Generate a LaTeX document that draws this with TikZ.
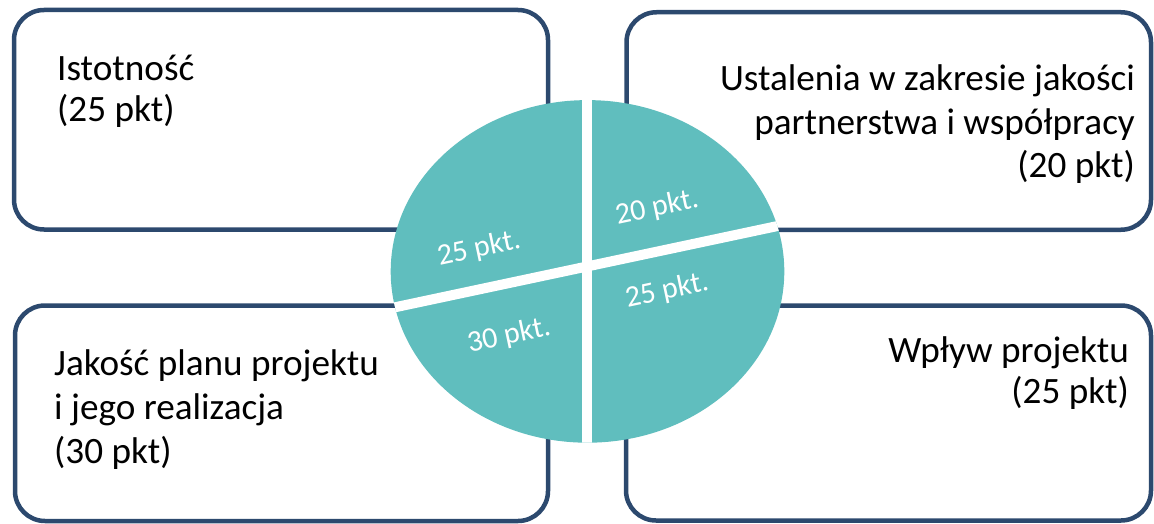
\documentclass[tikz,border=0pt]{standalone}
\usepackage{fontspec}
\setmainfont{Carlito}
\definecolor{navy}{RGB}{44,73,110}
\definecolor{pieteal}{RGB}{96,190,190}
\begin{document}
\begin{tikzpicture}[x=1pt,y=-1pt,
  panel/.style={draw=navy, line width=4.5pt, rounded corners=30pt, fill=white, inner sep=0pt},
  maintext/.style={inner sep=0pt, text=black},
  slicelabel/.style={font=\fontsize{30}{36}\selectfont, text=white, rotate=12, inner sep=0pt},
  gap/.style={draw=white, line width=10pt}]
\useasboundingbox (0,0) rectangle (1154,524);
% panels
\node[panel, minimum width=534pt, minimum height=219.5pt] (tl) at (281,119.75) {};
\node[panel, minimum width=524.5pt, minimum height=217.5pt] (tr) at (888.75,121) {};
\node[panel, minimum width=533pt, minimum height=215.5pt] (bl) at (281.5,413.25) {};
\node[panel, minimum width=525pt, minimum height=215pt] (br) at (888.5,413) {};
% texts (base anchor = baseline of the last line)
\node[maintext, anchor=base west, align=left, font=\fontsize{37.2}{41}\selectfont] (tltext) at (57,122) {Istotność\\(25 pkt)};
\node[maintext, anchor=base east, align=right, font=\fontsize{37.2}{43.5}\selectfont] (trtext) at (1135,178) {Ustalenia w zakresie jakości\\partnerstwa i współpracy\\(20 pkt)};
\node[maintext, anchor=base west, align=left, font=\fontsize{37.2}{44}\selectfont] (bltext) at (54,463) {Jakość planu projektu\\i jego realizacja\\(30 pkt)};
\node[maintext, anchor=base east, align=right, font=\fontsize{37.2}{41}\selectfont] (brtext) at (1129,403) {Wpływ projektu\\(25 pkt)};
% pie
\fill[pieteal] (587.5,271.4) ellipse [x radius=196.8pt, y radius=171.3pt];
\coordinate (c) at (587,266.5);
\coordinate (vtop) at (587,60);
\coordinate (vbot) at (587,480);
\coordinate (sl) at (362,314.3);
\coordinate (sr) at (812,218.7);
\begin{scope}
  \clip (587.5,271.4) ellipse [x radius=196.8pt, y radius=171.3pt];
  \draw[gap] (vtop) -- (vbot);
  \draw[gap] (sl) -- (sr);
\end{scope}
\node[slicelabel] (s1) at (479,249) {25 pkt.};
\node[slicelabel] (s2) at (657,208) {20 pkt.};
\node[slicelabel] (s3) at (509,336) {30 pkt.};
\node[slicelabel] (s4) at (667,291) {25 pkt.};
\end{tikzpicture}
\end{document}
